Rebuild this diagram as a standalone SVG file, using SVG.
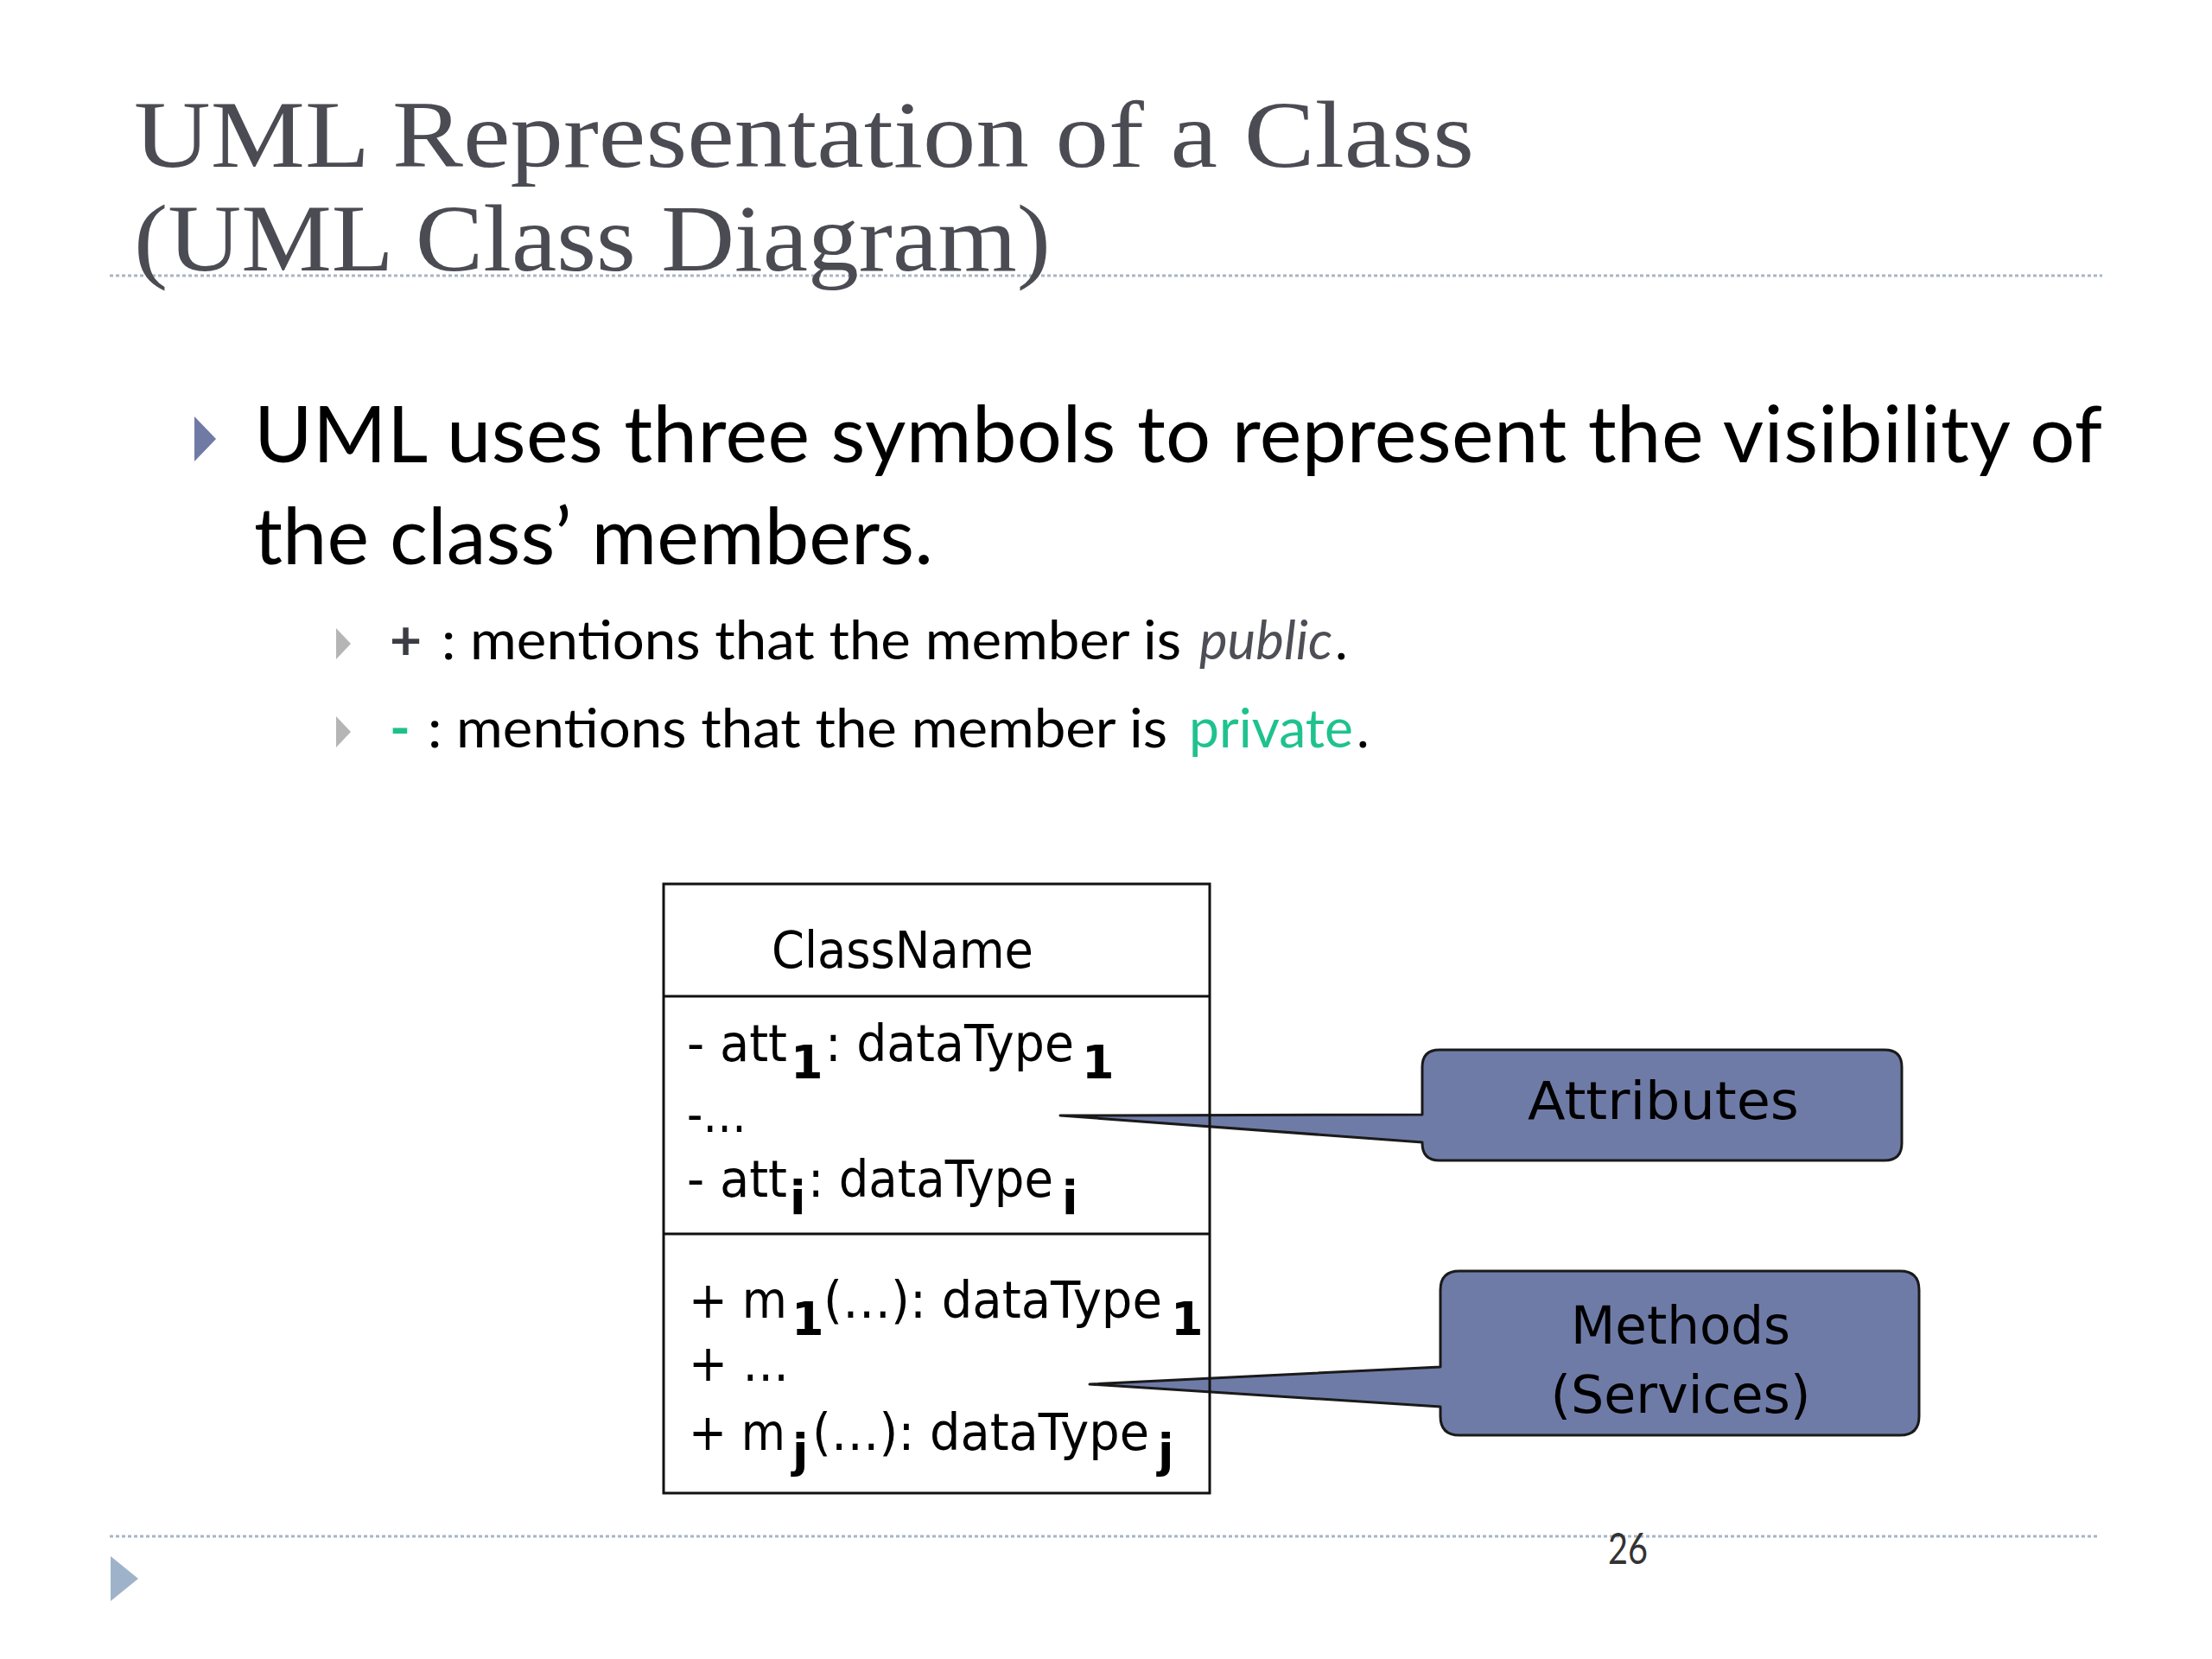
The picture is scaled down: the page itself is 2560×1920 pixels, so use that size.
<svg xmlns="http://www.w3.org/2000/svg" width="2560" height="1920" viewBox="0 0 2560 1920">
<style>
.title{font-family:"Liberation Serif","DejaVu Serif",serif;font-size:110px;fill:#4b4b53}
.body{font-family:Lato,"Open Sans","DejaVu Sans",sans-serif;fill:#000}
.uml{font-family:"DejaVu Sans","Liberation Sans",sans-serif;font-size:58px;fill:#000}
.sub{font-family:"DejaVu Sans","Liberation Sans",sans-serif;font-size:54px;font-weight:bold;fill:#000}
.dots{stroke:#a7b6c6;stroke-width:3;stroke-dasharray:4 3;fill:none}
.callout{fill:#6f7ba7;stroke:#1a1a1a;stroke-width:3;stroke-linejoin:round}
.ctext{font-family:"DejaVu Sans","Open Sans",sans-serif;font-size:60px;fill:#000;text-anchor:middle}
.box{fill:none;stroke:#111;stroke-width:3}
</style>
<rect width="2560" height="1920" fill="#fff"/>
<line class="dots" x1="127" y1="319" x2="2433" y2="319"/>
<g id="title">
<text class="title" x="155" y="193" textLength="1551" lengthAdjust="spacingAndGlyphs">UML Representation of a Class</text>
<text class="title" x="155" y="313" textLength="1061" lengthAdjust="spacingAndGlyphs">(UML Class Diagram)</text>
</g>
<g id="bullets">
<polygon points="225,482 250,508 225,534" fill="#6f7aa5"/>
<text class="body" x="294" y="535" font-size="92" textLength="2139">UML uses three symbols to represent the visibility of</text>
<text class="body" x="294" y="653" font-size="92" textLength="786">the class’ members.</text>
<polygon points="389,727 406,745 389,763" fill="#b5b5b5"/>
<text class="body" x="451" y="763" font-size="64" font-weight="bold" style="fill:#3c3c44">+</text>
<text class="body" x="511" y="763" font-size="62" textLength="856" lengthAdjust="spacingAndGlyphs">: mentions that the member is</text>
<text class="body" x="1388" y="763" font-size="62" font-style="italic" style="fill:#4e4e56" textLength="154" lengthAdjust="spacingAndGlyphs">public</text>
<text class="body" x="1545" y="763" font-size="62">.</text>
<polygon points="389,829 406,847 389,865" fill="#b5b5b5"/>
<text class="body" x="451" y="865" font-size="64" font-weight="bold" style="fill:#1fbf8c">-</text>
<text class="body" x="495" y="865" font-size="62" textLength="856" lengthAdjust="spacingAndGlyphs">: mentions that the member is</text>
<text class="body" x="1376" y="865" font-size="62" style="fill:#1fc28e" textLength="190" lengthAdjust="spacingAndGlyphs">private</text>
<text class="body" x="1570" y="865" font-size="62">.</text>
</g>
<g id="connectors">
<path id="attributes-pointer" class="callout" d="M1646,1322 L1227,1291 L1646,1290 Z" style="stroke:none"/>
<path id="methods-pointer" class="callout" d="M1667,1628 L1261,1602 L1667,1582 Z" style="stroke:none"/>
</g>
<g id="attributes">
<path class="callout" d="M1666,1215 H2181 Q2201,1215 2201,1235 V1323 Q2201,1343 2181,1343 H1666 Q1646,1343 1646,1323 V1322 L1227,1291 L1646,1290 V1235 Q1646,1215 1666,1215 Z"/>
<text class="ctext" x="1925" y="1295" textLength="314" lengthAdjust="spacingAndGlyphs">Attributes</text>
</g>
<g id="methods">
<path class="callout" d="M1689,1471 H2199 Q2221,1471 2221,1493 V1639 Q2221,1661 2199,1661 H1689 Q1667,1661 1667,1639 V1628 L1261,1602 L1667,1582 V1493 Q1667,1471 1689,1471 Z"/>
<text class="ctext" x="1945" y="1555" textLength="254" lengthAdjust="spacingAndGlyphs">Methods</text>
<text class="ctext" x="1945" y="1635" textLength="301" lengthAdjust="spacingAndGlyphs">(Services)</text>
</g>
<g id="class">
<rect class="box" x="768" y="1023" width="632" height="705"/>
<line class="box" x1="768" y1="1153" x2="1400" y2="1153"/>
<line class="box" x1="768" y1="1428" x2="1400" y2="1428"/>
<text class="uml" x="893" y="1120" textLength="303" lengthAdjust="spacingAndGlyphs">ClassName</text>
<text class="uml" x="795" y="1228" textLength="116" lengthAdjust="spacingAndGlyphs">- att</text>
<text class="sub" x="915" y="1248">1</text>
<text class="uml" x="955" y="1228" textLength="288" lengthAdjust="spacingAndGlyphs">: dataType</text>
<text class="sub" x="1252" y="1248">1</text>
<text class="uml" x="795" y="1310" textLength="69" lengthAdjust="spacingAndGlyphs">-…</text>
<text class="uml" x="795" y="1385" textLength="116" lengthAdjust="spacingAndGlyphs">- att</text>
<text class="sub" x="914" y="1405">i</text>
<text class="uml" x="935" y="1385" textLength="284" lengthAdjust="spacingAndGlyphs">: dataType</text>
<text class="sub" x="1229" y="1405">i</text>
<text class="uml" x="797" y="1525" textLength="114" lengthAdjust="spacingAndGlyphs">+ m</text>
<text class="sub" x="916" y="1545">1</text>
<text class="uml" x="953" y="1525" textLength="392" lengthAdjust="spacingAndGlyphs">(…): dataType</text>
<text class="sub" x="1355" y="1545">1</text>
<text class="uml" x="797" y="1598" textLength="116" lengthAdjust="spacingAndGlyphs">+ …</text>
<text class="uml" x="797" y="1678" textLength="112" lengthAdjust="spacingAndGlyphs">+ m</text>
<text class="sub" x="917" y="1698">j</text>
<text class="uml" x="940" y="1678" textLength="390" lengthAdjust="spacingAndGlyphs">(…): dataType</text>
<text class="sub" x="1340" y="1698">j</text>
</g>
<g id="footer">
<line class="dots" x1="127" y1="1778" x2="2430" y2="1778"/>
<polygon points="128,1801 160,1827 128,1853" fill="#9eb3c9"/>
<text class="body" x="1861" y="1810" font-size="50" style="fill:#333" textLength="46" lengthAdjust="spacingAndGlyphs">26</text>
</g>
</svg>
